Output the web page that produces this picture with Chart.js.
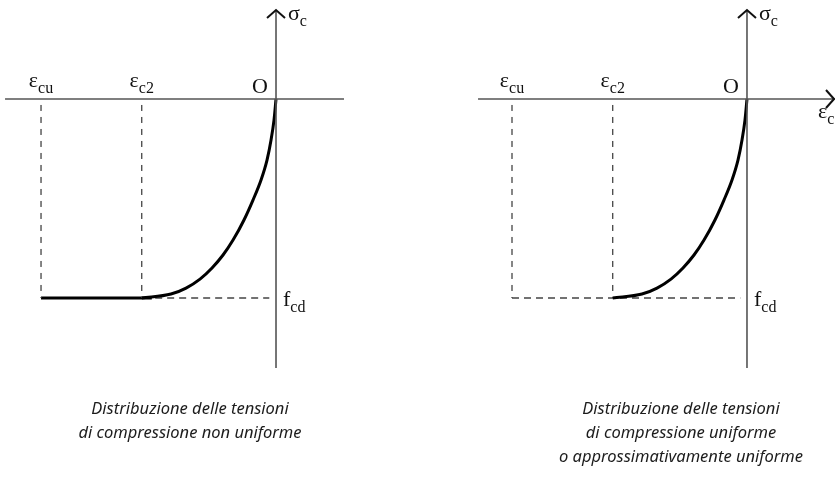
<!DOCTYPE html>
<html>
<head>
<meta charset="utf-8">
<script src="https://cdn.jsdelivr.net/npm/chart.js@4"></script>
<style>
  body { margin: 0; background: #fff; width: 835px; height: 480px; position: relative; overflow: hidden; }
  canvas { position: absolute; top: 0; }
  #left { left: 0; }
  #right { left: 417px; }
  .caption {
    position: absolute; top: 396px; width: 320px; text-align: center;
    font-family: "Noto Sans", sans-serif; font-style: italic; font-size: 16.5px;
    line-height: 24px; color: #1c1c1c;
  }
</style>
</head>
<body>
<canvas id="left" width="417" height="400"></canvas>
<canvas id="right" width="418" height="400"></canvas>
<div class="caption" style="left:30px">Distribuzione delle tensioni<br>di compressione non uniforme</div>
<div class="caption" style="left:521px">Distribuzione delle tensioni<br>di compressione uniforme<br>o approssimativamente uniforme</div>
<script>
// strain in per mille (negative = compression), stress as sigma / fcd
const strainMarks = [-3.5, -2.0];
const strainNames = [['ε', 'cu'], ['ε', 'c2']];
const fcd = -1.0;
const curveStrain = [0, -0.030, -0.074, -0.134, -0.223, -0.343, -0.477, -0.640, -0.789, -0.953, -1.132, -1.340, -1.564, -2.0];
const curveStress = [0, -0.106, -0.206, -0.307, -0.407, -0.508, -0.608, -0.709, -0.784, -0.849, -0.905, -0.950, -0.980, -1.0];

const Y_MIN = -1.5126, Y_MAX = 0.4975;
const AXIS_TOP = 0.447, AXIS_BOTTOM = -1.352;

const AXIS_COLOR = '#555';
const DASH_COLOR = '#444';

function pts(xs, ys) {
  return xs.map((x, i) => ({ x: x, y: ys[i] }));
}

const diagramLabels = {
  id: 'diagramLabels',
  afterDatasetsDraw(chart, args, opts) {
    const ctx = chart.ctx;
    const sx = chart.scales.x, sy = chart.scales.y;
    const ox = sx.getPixelForValue(0), oy = sy.getPixelForValue(0);
    const top = sy.getPixelForValue(AXIS_TOP);
    const fy = sy.getPixelForValue(fcd);

    ctx.save();
    ctx.strokeStyle = '#111';
    ctx.lineWidth = 2;
    ctx.lineJoin = 'miter';
    // top arrow
    ctx.beginPath();
    ctx.moveTo(ox - 9, top + 8);
    ctx.lineTo(ox, top);
    ctx.lineTo(ox + 9, top + 8);
    ctx.stroke();
    // right arrow
    if (opts.rightArrow) {
      const rx = sx.getPixelForValue(opts.axisEnd);
      ctx.beginPath();
      ctx.moveTo(rx - 9, oy - 9);
      ctx.lineTo(rx - 1, oy);
      ctx.lineTo(rx - 9, oy + 9);
      ctx.stroke();
    }

    ctx.fillStyle = '#111';
    ctx.textBaseline = 'alphabetic';
    const big = '22px "Liberation Serif", "Times New Roman", serif';
    const small = '16px "Liberation Serif", "Times New Roman", serif';

    function sub(main, s, x, y, align) {
      ctx.font = big;
      const w1 = ctx.measureText(main).width;
      ctx.font = small;
      const w2 = ctx.measureText(s).width;
      let x0 = x;
      if (align === 'center') x0 = x - (w1 + w2) / 2;
      ctx.font = big;
      ctx.textAlign = 'left';
      ctx.fillText(main, x0, y);
      ctx.font = small;
      ctx.fillText(s, x0 + w1, y + 6);
    }

    strainMarks.forEach((e, i) => {
      sub(strainNames[i][0], strainNames[i][1], sx.getPixelForValue(e), oy - 12, 'center');
    });

    ctx.font = big;
    ctx.textAlign = 'right';
    ctx.fillText('O', ox - 8, oy - 6);

    sub('σ', 'c', ox + 12, top + 10, 'left');
    sub('f', 'cd', ox + 7, fy + 8, 'left');
    if (opts.rightArrow) {
      sub('ε', 'c', sx.getPixelForValue(opts.axisEnd) - 17, oy + 19, 'left');
    }
    ctx.restore();
  }
};

function makePanel(id, xMin, xMax, axisStart, axisEnd, plateau, rightArrow) {
  const datasets = [
    { data: pts([axisStart, axisEnd], [0, 0]), borderColor: AXIS_COLOR, borderWidth: 1.6 },
    { data: pts([0, 0], [AXIS_TOP, AXIS_BOTTOM]), borderColor: AXIS_COLOR, borderWidth: 1.6 },
    { data: pts(curveStrain, curveStress), borderColor: '#000', borderWidth: 3, cubicInterpolationMode: 'monotone' }
  ];
  strainMarks.forEach(e => {
    datasets.push({ data: pts([e, e], [-0.03, fcd]), borderColor: DASH_COLOR, borderWidth: 1.3, borderDash: [6, 6] });
  });
  if (plateau) {
    datasets.push({ data: pts([strainMarks[1] + 0.2, -0.1], [fcd, fcd]), borderColor: DASH_COLOR, borderWidth: 1.3, borderDash: [7, 5] });
    datasets.push({ data: pts([strainMarks[0], strainMarks[1] + 0.15], [fcd, fcd]), borderColor: '#000', borderWidth: 3 });
  } else {
    datasets.push({ data: pts([strainMarks[0], -0.1], [fcd, fcd]), borderColor: DASH_COLOR, borderWidth: 1.3, borderDash: [7, 5] });
  }
  datasets.forEach(d => { d.pointRadius = 0; d.showLine = true; d.fill = false; });

  return new Chart(document.getElementById(id), {
    type: 'scatter',
    data: { datasets: datasets },
    options: {
      responsive: false,
      animation: false,
      layout: { padding: 0 },
      scales: {
        x: { type: 'linear', min: xMin, max: xMax, display: false },
        y: { type: 'linear', min: Y_MIN, max: Y_MAX, display: false }
      },
      plugins: {
        legend: { display: false },
        tooltip: { enabled: false },
        diagramLabels: { rightArrow: rightArrow, axisEnd: axisEnd }
      }
    },
    plugins: [diagramLabels]
  });
}

makePanel('left', -4.111, 2.100, -4.036, 1.013, true, false);
makePanel('right', -4.915, 1.311, -4.006, 1.311, false, true);
</script>
</body>
</html>
